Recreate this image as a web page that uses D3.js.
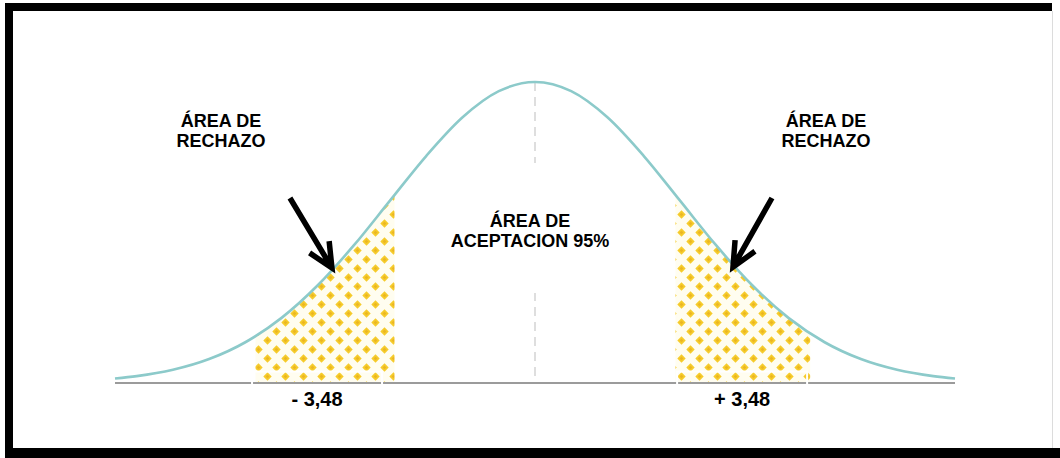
<!DOCTYPE html>
<html>
<head>
<meta charset="utf-8">
<script src="https://cdn.jsdelivr.net/npm/d3@7"></script>
<style>
  html, body { margin: 0; padding: 0; background: #fff; }
  svg { display: block; }
  text { font-family: "Liberation Sans", Arial, sans-serif; font-weight: bold; fill: #000; }
</style>
</head>
<body>
<svg id="chart" width="1060" height="458"></svg>
<script>
// ---- data ----
const zValues = [-2.9, -2.75, -2.5, -2.25, -2.0, -1.75, -1.5, -1.25, -1.0, -0.75, -0.5, -0.25, 0,
                  0.25, 0.5, 0.75, 1.0, 1.25, 1.5, 1.75, 2.0, 2.25, 2.5, 2.75, 2.9];
const densityValues = [0.0060, 0.0091, 0.0175, 0.0317, 0.0540, 0.0863, 0.1295, 0.1826, 0.2420, 0.3011, 0.3521, 0.3867, 0.3989,
                       0.3867, 0.3521, 0.3011, 0.2420, 0.1826, 0.1295, 0.0863, 0.0540, 0.0317, 0.0175, 0.0091, 0.0060];
const rejectLeft = [-1.93, -0.97];
const rejectRight = [0.97, 1.90];
const criticalZ = [-1.505, 1.43];
const criticalLabels = ["- 3,48", "+ 3,48"];
const rejectTitle = ["ÁREA DE", "RECHAZO"];
const acceptTitle = ["ÁREA DE", "ACEPTACION 95%"];
const arrowTipsZ = [-1.402, 1.367];
const arrowTipsD = [0.1524, 0.1537];

// ---- setup ----
const svg = d3.select("#chart");
const x = d3.scaleLinear().domain([-2.9, 2.9]).range([115, 955]);
const y = d3.scaleLinear().domain([0, 0.3989]).range([383, 82]);
const pts = zValues.map((z, i) => ({ z, d: densityValues[i] }));

const defs = svg.append("defs");
// diamond dot pattern
const P = 18;
const pat = defs.append("pattern").attr("id", "dots").attr("patternUnits", "userSpaceOnUse")
  .attr("width", P).attr("height", P).attr("x", 2).attr("y", 3);
pat.append("rect").attr("width", P).attr("height", P).attr("fill", "#fffdf0");
[[P / 4, P / 4], [3 * P / 4, 3 * P / 4]].forEach(([cx, cy]) => {
  const r = 4.2;
  pat.append("path")
    .attr("d", `M${cx},${cy - r}L${cx + r},${cy}L${cx},${cy + r}L${cx - r},${cy}Z`)
    .attr("fill", "#f6cb2a");
  pat.append("path")
    .attr("d", `M${cx},${cy - 1.8}L${cx + 1.8},${cy}L${cx},${cy + 1.8}L${cx - 1.8},${cy}Z`)
    .attr("fill", "#ebb622");
});

const area = d3.area().x(d => x(d.z)).y0(y(0)).y1(d => y(d.d)).curve(d3.curveMonotoneX);
defs.append("clipPath").attr("id", "under").append("path").attr("d", area(pts));

// ---- frame ----
svg.append("rect").attr("x", 5).attr("y", 3).attr("width", 1047).attr("height", 8).attr("fill", "#000");
svg.append("rect").attr("x", 5).attr("y", 3).attr("width", 8).attr("height", 455).attr("fill", "#000");
svg.append("rect").attr("x", 5).attr("y", 448).attr("width", 1055).attr("height", 10).attr("fill", "#000");
svg.append("line").attr("x1", 1052.5).attr("x2", 1052.5).attr("y1", 11).attr("y2", 448)
  .attr("stroke", "#dcdcdc").attr("stroke-width", 1);

// ---- rejection regions ----
const g = svg.append("g").attr("clip-path", "url(#under)");
[rejectLeft, rejectRight].forEach(r => {
  g.append("rect").attr("x", x(r[0])).attr("width", x(r[1]) - x(r[0]))
    .attr("y", y(0.4)).attr("height", y(0) - y(0.4))
    .attr("fill", "url(#dots)");
});

// ---- center dashed line ----
svg.append("line").attr("x1", x(0)).attr("x2", x(0)).attr("y1", y(0.3989)).attr("y2", y(0))
  .attr("stroke", "#d4d4d4").attr("stroke-width", 1.5).attr("stroke-dasharray", "9,6");

// white box behind acceptance text
svg.append("rect").attr("x", 420).attr("y", 163).attr("width", 230).attr("height", 130).attr("fill", "#fff");

// ---- baseline & curve ----
svg.append("line").attr("x1", x(-2.9)).attr("x2", x(2.9)).attr("y1", y(0)).attr("y2", y(0))
  .attr("stroke", "#9b9b9b").attr("stroke-width", 2);
const line = d3.line().x(d => x(d.z)).y(d => y(d.d)).curve(d3.curveMonotoneX);
svg.append("path").attr("d", line(pts)).attr("fill", "none")
  .attr("stroke", "#8ccaca").attr("stroke-width", 2.6);

// ---- critical value label boxes ----
criticalZ.forEach((z, i) => {
  const cx = x(z);
  svg.append("path")
    .attr("d", `M${cx - 65},412V371.5H${cx + 65}V412`)
    .attr("fill", "none").attr("stroke", "#fff").attr("stroke-width", 2);
  svg.append("text").attr("x", cx).attr("y", 406).attr("text-anchor", "middle")
    .attr("font-size", 20).text(criticalLabels[i]);
});

// ---- text ----
[221, 826].forEach(cx => {
  rejectTitle.forEach((t, i) => {
    svg.append("text").attr("x", cx).attr("y", 127 + i * 20).attr("text-anchor", "middle")
      .attr("font-size", 18).text(t);
  });
});
acceptTitle.forEach((t, i) => {
  svg.append("text").attr("x", 530).attr("y", 227 + i * 20).attr("text-anchor", "middle")
    .attr("font-size", 18).text(t);
});

// ---- arrows ----
const tails = [[-42, -70], [39, -69]];
arrowTipsZ.forEach((z, i) => {
  const tx = x(z), ty = y(arrowTipsD[i]);
  const [dx, dy] = tails[i];
  const ang = Math.atan2(dy, dx);
  const L = 27, spread = 25 * Math.PI / 180;
  const w1 = [tx + L * Math.cos(ang - spread), ty + L * Math.sin(ang - spread)];
  const w2 = [tx + L * Math.cos(ang + spread), ty + L * Math.sin(ang + spread)];
  svg.append("path")
    .attr("d", `M${tx + dx},${ty + dy}L${tx},${ty}M${w1[0]},${w1[1]}L${tx},${ty}L${w2[0]},${w2[1]}`)
    .attr("fill", "none").attr("stroke", "#000").attr("stroke-width", 5.5)
    .attr("stroke-linejoin", "miter").attr("stroke-linecap", "butt");
});
</script>
</body>
</html>
